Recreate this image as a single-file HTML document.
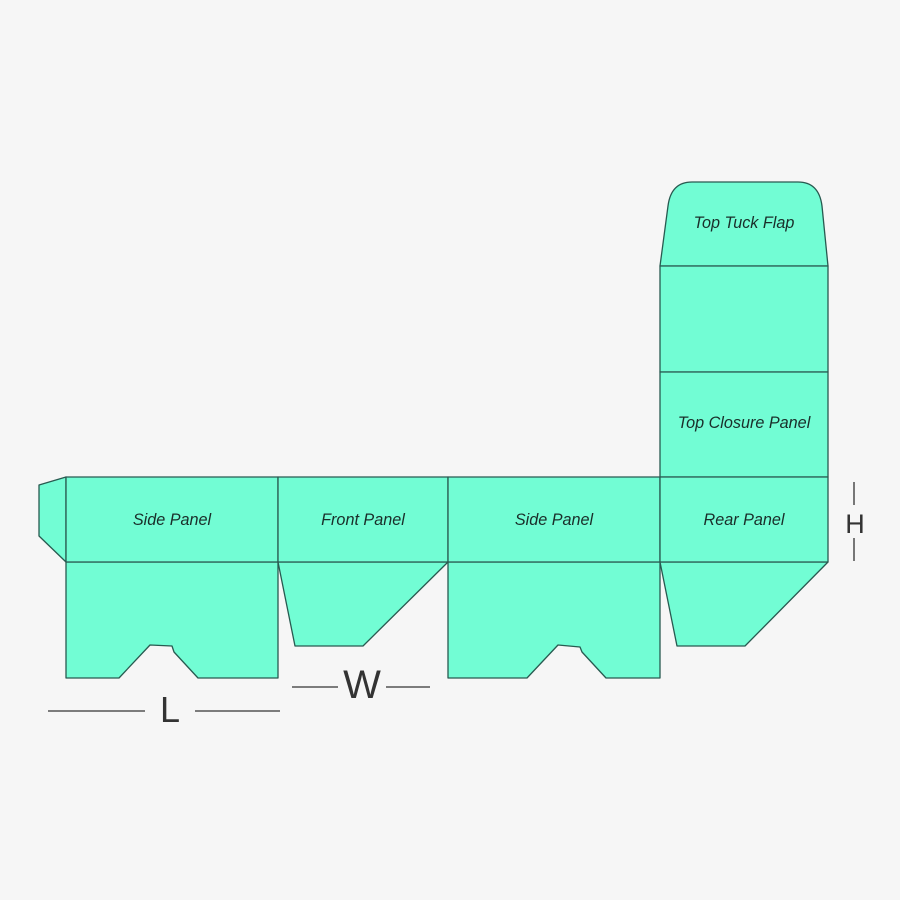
<!DOCTYPE html>
<html><head><style>
html,body{margin:0;padding:0;background:#f6f6f6;}
svg{display:block;}
</style></head><body>
<svg width="900" height="900" viewBox="0 0 900 900" xmlns="http://www.w3.org/2000/svg">
<rect width="900" height="900" fill="#f6f6f6"/>
<g fill="#72fdd4" stroke="#285a50" stroke-width="1.3" stroke-linejoin="round">
<path d="M66,477 L39,485 L39,536 L66,562 Z"/>
<path d="M66,562 L278,562 L278,678 L198,678 L174,652 L172,646 L150,645 L119,678 L66,678 Z"/>
<path d="M278,562 L448,562 L363,646 L295,646 Z"/>
<path d="M448,562 L660,562 L660,678 L606,678 L582,652 L580,647 L558,645 L527,678 L448,678 Z"/>
<path d="M660,562 L828,562 L745,646 L677,646 Z"/>
<path d="M660,266 L668,206 Q671,182 692,182 L798,182 Q819,182 822,206 L828,266 Z"/>
<rect x="660" y="266" width="168" height="106"/>
<rect x="660" y="372" width="168" height="105"/>
<rect x="66" y="477" width="212" height="85"/>
<rect x="278" y="477" width="170" height="85"/>
<rect x="448" y="477" width="212" height="85"/>
<rect x="660" y="477" width="168" height="85"/>
</g>
<g font-family="Liberation Sans, sans-serif" font-style="italic" font-size="16.2" fill="#1a2e2a" text-anchor="middle">
<text x="172" y="525">Side Panel</text>
<text x="363" y="525">Front Panel</text>
<text x="554" y="525">Side Panel</text>
<text x="744" y="525">Rear Panel</text>
<text x="744" y="428">Top Closure Panel</text>
<text x="744" y="228">Top Tuck Flap</text>
</g>
<g stroke="#333" stroke-width="1.3">
<line x1="48" y1="711" x2="145" y2="711"/>
<line x1="195" y1="711" x2="280" y2="711"/>
<line x1="292" y1="687" x2="338" y2="687"/>
<line x1="386" y1="687" x2="430" y2="687"/>
<line x1="854" y1="482" x2="854" y2="505"/>
<line x1="854" y1="538" x2="854" y2="561"/>
</g>
<g font-family="Liberation Sans, sans-serif" fill="#333" text-anchor="middle">
<text x="170" y="722" font-size="36">L</text>
<text x="362" y="698" font-size="40">W</text>
<text x="855" y="533" font-size="27">H</text>
</g>
</svg>
</body></html>
